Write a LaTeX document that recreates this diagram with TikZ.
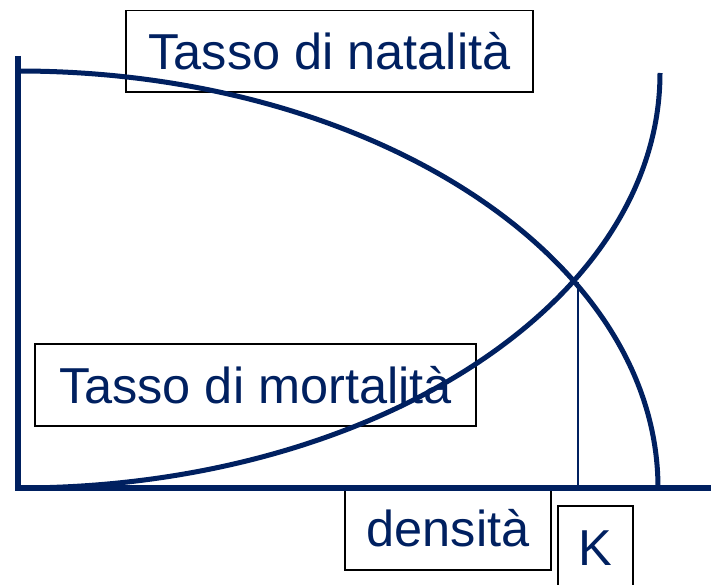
\documentclass[tikz,border=0pt]{standalone}
\usepackage{fontspec}
\setmainfont{Liberation Sans}
\definecolor{navy}{RGB}{0,32,96}
\begin{document}
\begin{tikzpicture}[x=1pt,y=1pt,
  labelbox/.style={draw=black, line width=1.5pt, inner sep=0pt, text=navy,
    font=\fontsize{50.5}{60}\selectfont, text height=36pt, text depth=0pt},
  axisline/.style={draw=navy, line width=5.5pt},
  curveline/.style={draw=navy, line width=5pt},
  thinline/.style={draw=navy, line width=1.6pt}]
\useasboundingbox (0,0) rectangle (711,584);
% label boxes
\node[labelbox, minimum width=407pt, minimum height=81.5pt] (nat) at (329.5,532.75) {Tasso di natalità};
\node[labelbox, minimum width=441pt, minimum height=82pt] (mort) at (255.5,199) {Tasso di mortalità};
\node[labelbox, minimum width=206pt, minimum height=83pt] (dens) at (448,55.5) {densità};
\node[labelbox, minimum width=75pt, minimum height=83pt] (K) at (595.5,36.5) {K};
% axes
\coordinate (ytop) at (18,528);
\coordinate (origin) at (18,96);
\coordinate (xend) at (711,96);
\draw[axisline] (ytop) -- (origin) -- (xend);
% curves
\coordinate (natstart) at (18,513);
\coordinate (mortstart) at (18,96);
\draw[curveline] (natstart) arc[start angle=90, end angle=0, x radius=640, y radius=417];
\draw[curveline] (mortstart) arc[start angle=270, end angle=360, x radius=642, y radius=415];
% K line
\coordinate (kbase) at (578,96);
\coordinate (ktop) at (578,302);
\draw[thinline] (kbase) -- (ktop);
\end{tikzpicture}
\end{document}
